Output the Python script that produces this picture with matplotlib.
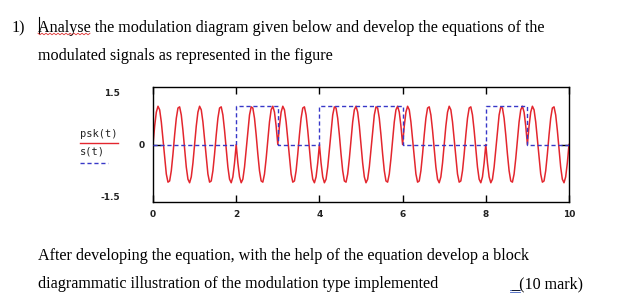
import matplotlib
matplotlib.use('Agg')
import matplotlib.pyplot as plt
from matplotlib.lines import Line2D
import numpy as np

# data: one bit per unit of time, BPSK carrier
bit_edges = [0, 1, 2, 3, 4, 5, 6, 7, 8, 9, 10]
bits = [0, 0, 1, 0, 1, 1, 0, 0, 1, 0]
carrier_freq = 2.0      # cycles per unit time
t_step = 0.04
x_ticks = [0, 2, 4, 6, 8, 10]
y_limits = [-1.5, 1.5]

t = np.arange(0, 10 + t_step / 2, t_step)
bit_idx = np.clip(np.floor(t + 1e-9).astype(int), 0, len(bits) - 1)
s_t = np.array(bits)[bit_idx]
psk = np.sin(2 * np.pi * carrier_freq * t + np.pi * s_t)

W, H = 620, 303
RED = '#E3262E'
BLUE = '#3838C8'
SERIF = 'Liberation Serif'

fig = plt.figure(figsize=(W / 100, H / 100), dpi=100)
fig.patch.set_facecolor('white')


def fx(px):
    return px / W


def fy(py):
    return 1 - py / H


# question text
fs = 11.6
fig.text(fx(12), fy(32), '1)', fontsize=fs, family=SERIF, va='baseline')
fig.text(fx(38), fy(32), 'Analyse the modulation diagram given below and develop the equations of the',
         fontsize=fs, family=SERIF, va='baseline')
fig.text(fx(38), fy(60), 'modulated signals as represented in the figure',
         fontsize=fs, family=SERIF, va='baseline')
fig.text(fx(38), fy(260), 'After developing the equation, with the help of the equation develop a block',
         fontsize=fs, family=SERIF, va='baseline')
fig.text(fx(38), fy(288), 'diagrammatic illustration of the modulation type implemented',
         fontsize=fs, family=SERIF, va='baseline')
fig.text(fx(583), fy(288), '_(10 mark)', fontsize=fs, family=SERIF, va='baseline', ha='right')

# cursor, spell-check squiggle, link underline
fig.add_artist(Line2D([fx(38.5), fx(38.5)], [fy(17), fy(33)], color='black', lw=0.8))
zx = np.arange(38, 91, 2.0)
zy = 34 + np.where(np.arange(len(zx)) % 2 == 0, -0.8, 0.8)
fig.add_artist(Line2D(fx(zx), fy(zy), color='#E03030', lw=0.6))
fig.add_artist(Line2D([fx(510), fx(520)], [fy(290), fy(290)], color='#4060C0', lw=0.6))
fig.add_artist(Line2D([fx(510), fx(520)], [fy(292), fy(292)], color='#4060C0', lw=0.6))

# plot area
ax = fig.add_axes([fx(153), fy(202), fx(569) - fx(153), fy(87) - fy(202)])
ax.plot(t, psk, color=RED, lw=1.1, zorder=2)
ax.step(bit_edges, bits + [bits[-1]], where='post', color=BLUE, lw=1.0,
        linestyle=(0, (3, 2)), zorder=3)
ax.set_xlim(0, 10)
ax.set_ylim(*y_limits)
ax.set_xticks(x_ticks)
ax.set_xticklabels([str(v) for v in x_ticks], fontsize=6.5, fontweight='bold', color='#222222')
ax.set_yticks([0])
ax.set_yticklabels(['0'], fontsize=6.5, fontweight='bold', color='#222222')
ax.tick_params(axis='x', direction='in', length=5, width=1.0, top=True, pad=6)
ax.tick_params(axis='y', direction='in', length=6, width=1.0, right=True, pad=6)
for sp in ax.spines.values():
    sp.set_color('black')
    sp.set_linewidth(1.0)

# limit labels in the left margin
ax.text(-0.079, (202 - 94) / 115, '1.5', transform=ax.transAxes, ha='right', va='center',
        fontsize=6.5, fontweight='bold', color='#222222')
ax.text(-0.079, (202 - 198) / 115, '-1.5', transform=ax.transAxes, ha='right', va='center',
        fontsize=6.5, fontweight='bold', color='#222222')

# legend at the left
fig.text(fx(80), fy(134), 'psk(t)', fontsize=7.5, family='DejaVu Sans Mono', va='center', color='#222222')
fig.add_artist(Line2D([fx(80), fx(118)], [fy(143), fy(143)], color=RED, lw=1.0))
fig.text(fx(80), fy(152), 's(t)', fontsize=7.5, family='DejaVu Sans Mono', va='center', color='#222222')
fig.add_artist(Line2D([fx(80), fx(108)], [fy(163), fy(163)], color=BLUE, lw=1.0,
                      linestyle=(0, (3, 2))))

fig.savefig('out.png', dpi=100, facecolor='white')
